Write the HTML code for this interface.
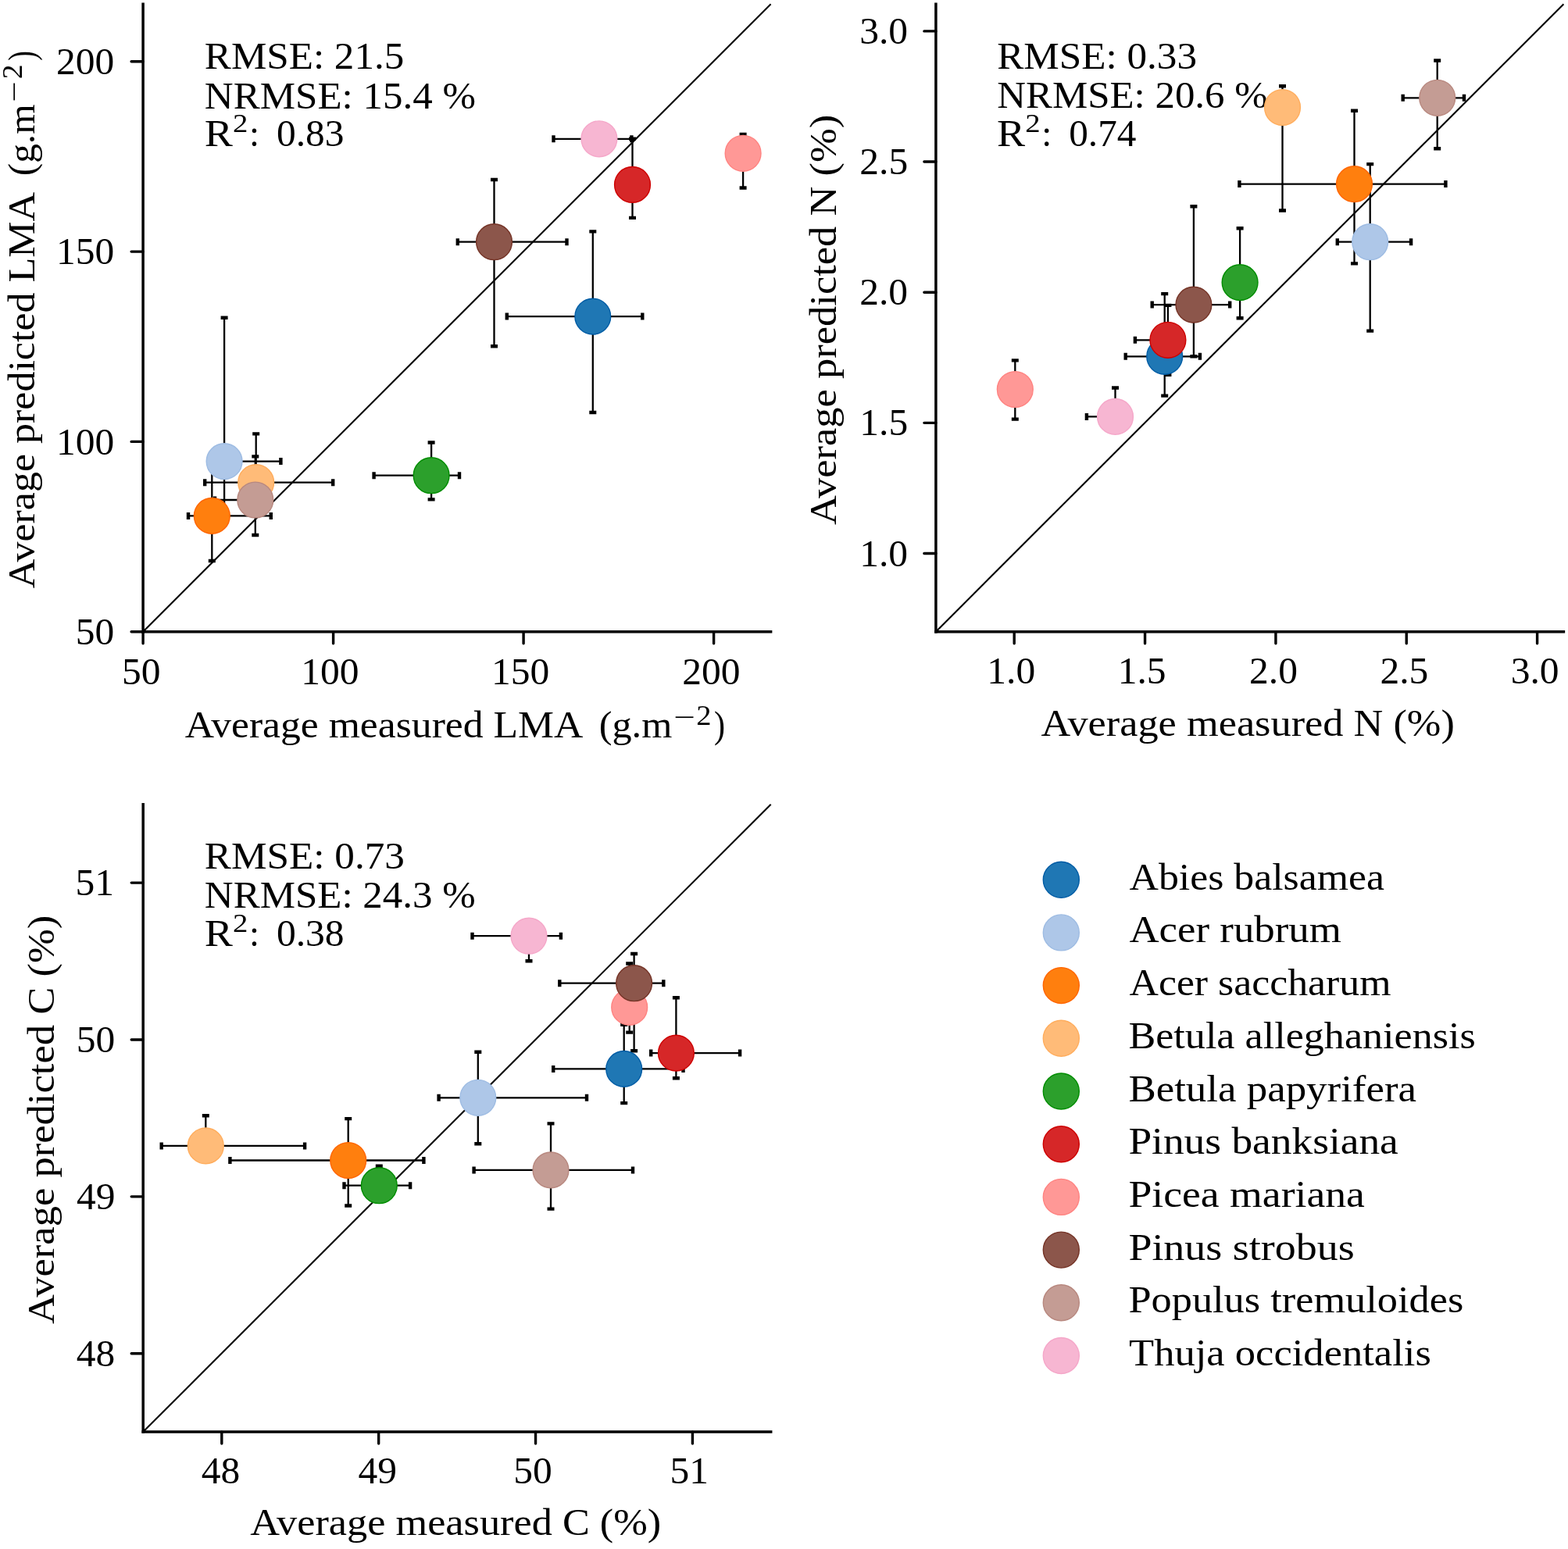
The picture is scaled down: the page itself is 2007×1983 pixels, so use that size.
<!DOCTYPE html><html><head><meta charset="utf-8"><style>html,body{margin:0;padding:0;background:#fff;overflow:hidden}svg{display:block}text{font-family:"Liberation Serif",serif;fill:#000}</style></head><body>
<svg width="2007" height="1983" viewBox="0 0 2007 1983">
<rect width="2007" height="1983" fill="#fff"/>
<path d="M183.10,5.20V808.70" stroke="#000" stroke-width="3.5" stroke-linecap="square" fill="none"/>
<path d="M183.10,808.70H986.60" stroke="#000" stroke-width="3.5" stroke-linecap="square" fill="none"/>
<path d="M183.10,808.70v15.0M426.60,808.70v15.0M670.10,808.70v15.0M913.60,808.70v15.0M183.10,808.70h-15.0M183.10,565.40h-15.0M183.10,322.10h-15.0M183.10,78.80h-15.0" stroke="#000" stroke-width="3.4" stroke-linecap="round" fill="none"/>
<path d="M183.10,808.70L986.60,5.20" stroke="#000" stroke-width="2.1" fill="none"/>
<text x="155.95" y="875.71" font-size="49.5">50</text>
<text x="385.14" y="875.71" font-size="49.5">100</text>
<text x="628.89" y="875.71" font-size="49.5">150</text>
<text x="873.34" y="875.71" font-size="49.5">200</text>
<text x="96.86" y="824.91" font-size="49.5">50</text>
<text x="72.11" y="581.61" font-size="49.5">100</text>
<text x="72.11" y="338.31" font-size="49.5">150</text>
<text x="72.11" y="95.01" font-size="49.5">200</text>
<text transform="translate(236.68,944.30) scale(1.0439,1)" font-size="49.5">Average measured LMA</text>
<text transform="translate(766.74,944.30) scale(1.0157,1)" font-size="49.5">(g.m</text>
<text transform="translate(862.15,929.94) scale(1.4009,1)" font-size="35.00">−</text>
<text transform="translate(891.37,927.50) scale(1.0628,1)" font-size="36.23">2</text>
<text transform="translate(913.92,944.30) scale(0.8552,1)" font-size="49.5">)</text>
<text transform="translate(44.00,753.32) rotate(-90) scale(1.0512,1)" font-size="49.5">Average predicted LMA</text>
<text transform="translate(44.00,225.22) rotate(-90) scale(0.9966,1)" font-size="49.5">(g.m</text>
<text transform="translate(30.14,130.75) rotate(-90) scale(1.3456,1)" font-size="35.00">−</text>
<text transform="translate(27.70,101.29) rotate(-90) scale(1.0755,1)" font-size="34.87">2</text>
<text transform="translate(44.00,77.74) rotate(-90) scale(0.7689,1)" font-size="49.5">)</text>
<text transform="translate(261.87,88.00) scale(1.0318,1)" font-size="49.5">RMSE: 21.5</text>
<text transform="translate(261.87,138.60) scale(1.0301,1)" font-size="49.5">NRMSE: 15.4 %</text>
<text transform="translate(261.77,187.00) scale(1.0944,1)" font-size="49.5">R</text>
<text transform="translate(297.96,169.10) scale(1.1359,1)" font-size="34.11">2</text>
<text transform="translate(319.06,187.00) scale(0.9456,1)" font-size="49.5">:</text>
<text transform="translate(353.95,187.00) scale(0.9977,1)" font-size="49.5">0.83</text>
<path d="M1197.90,5.20V808.70" stroke="#000" stroke-width="3.5" stroke-linecap="square" fill="none"/>
<path d="M1197.90,808.70H2001.40" stroke="#000" stroke-width="3.5" stroke-linecap="square" fill="none"/>
<path d="M1298.20,808.70v15.0M1465.55,808.70v15.0M1632.90,808.70v15.0M1800.25,808.70v15.0M1967.60,808.70v15.0M1197.90,708.50h-15.0M1197.90,541.35h-15.0M1197.90,374.20h-15.0M1197.90,207.05h-15.0M1197.90,39.90h-15.0" stroke="#000" stroke-width="3.4" stroke-linecap="round" fill="none"/>
<path d="M1197.90,808.70L2001.40,5.20" stroke="#000" stroke-width="2.1" fill="none"/>
<text x="1263.33" y="874.86" font-size="49.5">1.0</text>
<text x="1100.18" y="724.59" font-size="49.5">1.0</text>
<text x="1430.74" y="874.86" font-size="49.5">1.5</text>
<text x="1100.31" y="557.31" font-size="49.5">1.5</text>
<text x="1599.08" y="874.86" font-size="49.5">2.0</text>
<text x="1100.18" y="390.29" font-size="49.5">2.0</text>
<text x="1766.49" y="874.86" font-size="49.5">2.5</text>
<text x="1100.31" y="223.08" font-size="49.5">2.5</text>
<text x="1933.71" y="874.86" font-size="49.5">3.0</text>
<text x="1100.18" y="55.99" font-size="49.5">3.0</text>
<text transform="translate(1332.48,941.70) scale(1.0574,1)" font-size="49.5">Average measured N (%)</text>
<text transform="translate(1070.00,672.03) rotate(-90) scale(1.0611,1)" font-size="49.5">Average predicted N (%)</text>
<text transform="translate(1276.17,87.60) scale(1.0335,1)" font-size="49.5">RMSE: 0.33</text>
<text transform="translate(1276.17,137.80) scale(1.0286,1)" font-size="49.5">NRMSE: 20.6 %</text>
<text transform="translate(1276.07,186.50) scale(1.0944,1)" font-size="49.5">R</text>
<text transform="translate(1312.26,168.60) scale(1.1359,1)" font-size="34.11">2</text>
<text transform="translate(1333.36,186.50) scale(0.9456,1)" font-size="49.5">:</text>
<text transform="translate(1368.25,186.50) scale(0.9949,1)" font-size="49.5">0.74</text>
<path d="M183.20,1029.70V1833.10" stroke="#000" stroke-width="3.5" stroke-linecap="square" fill="none"/>
<path d="M183.20,1833.10H986.70" stroke="#000" stroke-width="3.5" stroke-linecap="square" fill="none"/>
<path d="M283.80,1833.10v15.0M484.67,1833.10v15.0M685.54,1833.10v15.0M886.41,1833.10v15.0M183.20,1732.70h-15.0M183.20,1531.83h-15.0M183.20,1330.96h-15.0M183.20,1130.09h-15.0" stroke="#000" stroke-width="3.4" stroke-linecap="round" fill="none"/>
<path d="M183.20,1833.10L986.70,1029.70" stroke="#000" stroke-width="2.1" fill="none"/>
<text x="257.73" y="1899.31" font-size="49.5">48</text>
<text x="458.50" y="1899.31" font-size="49.5">49</text>
<text x="657.16" y="1899.31" font-size="49.5">50</text>
<text x="857.56" y="1899.31" font-size="49.5">51</text>
<text x="97.86" y="1748.91" font-size="49.5">48</text>
<text x="97.98" y="1547.98" font-size="49.5">49</text>
<text x="97.86" y="1347.17" font-size="49.5">50</text>
<text x="96.47" y="1146.18" font-size="49.5">51</text>
<text transform="translate(320.18,1965.00) scale(1.0568,1)" font-size="49.5">Average measured C (%)</text>
<text transform="translate(68.50,1694.93) rotate(-90) scale(1.0625,1)" font-size="49.5">Average predicted C (%)</text>
<text transform="translate(261.86,1112.10) scale(1.0347,1)" font-size="49.5">RMSE: 0.73</text>
<text transform="translate(261.87,1161.90) scale(1.0295,1)" font-size="49.5">NRMSE: 24.3 %</text>
<text transform="translate(261.77,1211.00) scale(1.0944,1)" font-size="49.5">R</text>
<text transform="translate(297.96,1193.10) scale(1.1359,1)" font-size="34.11">2</text>
<text transform="translate(319.06,1211.00) scale(0.9456,1)" font-size="49.5">:</text>
<text transform="translate(353.94,1211.00) scale(1.0011,1)" font-size="49.5">0.38</text>
<path d="M648.8,405.1H822.3M758.8,296.4V528.0M275.0,590.6H359.4M287.1,406.7V662.0M241.0,660.4H346.8M271.3,600.0V718.0M262.2,617.7H426.2M327.7,555.4V640.0M478.6,608.7H588.0M552.1,566.5V639.4M809.5,177.8V278.9M951.1,172.0V240.5M585.8,309.7H725.5M632.5,230.0V443.2M275.0,640.0H345.0M326.8,584.4V685.0M708.5,177.8H808.4" stroke="#000" stroke-width="2.3" fill="none"/>
<path d="M648.8,400.6v9.0M822.3,400.6v9.0M754.3,296.4h9.0M754.3,528.0h9.0M275.0,586.1v9.0M359.4,586.1v9.0M282.6,406.7h9.0M282.6,662.0h9.0M241.0,655.9v9.0M346.8,655.9v9.0M266.8,600.0h9.0M266.8,718.0h9.0M262.2,613.2v9.0M426.2,613.2v9.0M323.2,555.4h9.0M323.2,640.0h9.0M478.6,604.2v9.0M588.0,604.2v9.0M547.6,566.5h9.0M547.6,639.4h9.0M805.0,177.8h9.0M805.0,278.9h9.0M946.6,172.0h9.0M946.6,240.5h9.0M585.8,305.2v9.0M725.5,305.2v9.0M628.0,230.0h9.0M628.0,443.2h9.0M275.0,635.5v9.0M345.0,635.5v9.0M322.3,584.4h9.0M322.3,685.0h9.0M708.5,173.3v9.0M808.4,173.3v9.0" stroke="#000" stroke-width="4.4" fill="none"/>
<path d="M1440.7,456.3H1535.9M1490.7,376.1V506.6M1711.8,309.7H1806.1M1753.7,210.1V423.6M1586.4,235.6H1850.4M1733.5,141.7V337.4M1641.5,110.2V269.5M1587.1,292.3V407.3M1452.9,435.3H1510.0M1494.9,390.9V479.8M1299.3,461.4V536.6M1474.7,390.1H1574.2M1527.9,264.3V456.3M1795.7,125.3H1874.0M1839.7,77.5V190.3M1390.9,533.4H1440.0M1427.5,496.5V550.0" stroke="#000" stroke-width="2.3" fill="none"/>
<path d="M1440.7,451.8v9.0M1535.9,451.8v9.0M1486.2,376.1h9.0M1486.2,506.6h9.0M1711.8,305.2v9.0M1806.1,305.2v9.0M1749.2,210.1h9.0M1749.2,423.6h9.0M1586.4,231.1v9.0M1850.4,231.1v9.0M1729.0,141.7h9.0M1729.0,337.4h9.0M1637.0,110.2h9.0M1637.0,269.5h9.0M1582.6,292.3h9.0M1582.6,407.3h9.0M1452.9,430.8v9.0M1510.0,430.8v9.0M1490.4,390.9h9.0M1490.4,479.8h9.0M1294.8,461.4h9.0M1294.8,536.6h9.0M1474.7,385.6v9.0M1574.2,385.6v9.0M1523.4,264.3h9.0M1523.4,456.3h9.0M1795.7,120.8v9.0M1874.0,120.8v9.0M1835.2,77.5h9.0M1835.2,190.3h9.0M1390.9,528.9v9.0M1440.0,528.9v9.0M1423.0,496.5h9.0M1423.0,550.0h9.0" stroke="#000" stroke-width="4.4" fill="none"/>
<path d="M708.2,1368.4H874.5M798.7,1311.8V1412.1M561.6,1405.3H751.0M611.8,1346.8V1464.3M294.4,1485.5H542.4M445.7,1432.1V1543.5M206.7,1466.9H390.1M263.3,1428.2V1480.0M440.5,1517.7H525.1M485.3,1492.8V1530.0M833.2,1348.1H947.1M865.4,1277.3V1380.3M790.0,1289.4H820.0M805.7,1233.5V1321.6M716.3,1258.7H849.3M811.6,1221.0V1345.3M606.6,1497.9H810.0M705.0,1438.4V1547.6M604.5,1198.2H717.9M677.0,1180.0V1230.3" stroke="#000" stroke-width="2.3" fill="none"/>
<path d="M708.2,1363.9v9.0M874.5,1363.9v9.0M794.2,1311.8h9.0M794.2,1412.1h9.0M561.6,1400.8v9.0M751.0,1400.8v9.0M607.3,1346.8h9.0M607.3,1464.3h9.0M294.4,1481.0v9.0M542.4,1481.0v9.0M441.2,1432.1h9.0M441.2,1543.5h9.0M206.7,1462.4v9.0M390.1,1462.4v9.0M258.8,1428.2h9.0M258.8,1480.0h9.0M440.5,1513.2v9.0M525.1,1513.2v9.0M480.8,1492.8h9.0M480.8,1530.0h9.0M833.2,1343.6v9.0M947.1,1343.6v9.0M860.9,1277.3h9.0M860.9,1380.3h9.0M790.0,1284.9v9.0M820.0,1284.9v9.0M801.2,1233.5h9.0M801.2,1321.6h9.0M716.3,1254.2v9.0M849.3,1254.2v9.0M807.1,1221.0h9.0M807.1,1345.3h9.0M606.6,1493.4v9.0M810.0,1493.4v9.0M700.5,1438.4h9.0M700.5,1547.6h9.0M604.5,1193.7v9.0M717.9,1193.7v9.0M672.5,1180.0h9.0M672.5,1230.3h9.0" stroke="#000" stroke-width="4.4" fill="none"/>
<circle cx="758.8" cy="405.1" r="22.90" fill="#1f77b4" stroke="#005ca5" stroke-width="1.4"/>
<circle cx="287.1" cy="590.6" r="22.90" fill="#aec7e8" stroke="#9ebce3" stroke-width="1.4"/>
<circle cx="271.3" cy="660.4" r="22.90" fill="#ff7f0e" stroke="#ff6500" stroke-width="1.4"/>
<circle cx="327.7" cy="617.7" r="22.90" fill="#ffbb78" stroke="#ffad5d" stroke-width="1.4"/>
<circle cx="552.1" cy="608.7" r="22.90" fill="#2ca02c" stroke="#028d02" stroke-width="1.4"/>
<circle cx="809.5" cy="236.4" r="22.90" fill="#d62728" stroke="#ce0000" stroke-width="1.4"/>
<circle cx="951.1" cy="196.3" r="22.90" fill="#ff9896" stroke="#ff8381" stroke-width="1.4"/>
<circle cx="632.5" cy="309.7" r="22.90" fill="#8c564b" stroke="#753427" stroke-width="1.4"/>
<circle cx="326.8" cy="640.0" r="22.90" fill="#c49c94" stroke="#b8887f" stroke-width="1.4"/>
<circle cx="766.9" cy="177.8" r="22.90" fill="#f7b6d2" stroke="#f5a7c9" stroke-width="1.4"/>
<circle cx="1490.7" cy="456.3" r="22.90" fill="#1f77b4" stroke="#005ca5" stroke-width="1.4"/>
<circle cx="1753.7" cy="309.7" r="22.90" fill="#aec7e8" stroke="#9ebce3" stroke-width="1.4"/>
<circle cx="1733.5" cy="235.6" r="22.90" fill="#ff7f0e" stroke="#ff6500" stroke-width="1.4"/>
<circle cx="1641.5" cy="137.5" r="22.90" fill="#ffbb78" stroke="#ffad5d" stroke-width="1.4"/>
<circle cx="1587.1" cy="361.6" r="22.90" fill="#2ca02c" stroke="#028d02" stroke-width="1.4"/>
<circle cx="1494.9" cy="435.3" r="22.90" fill="#d62728" stroke="#ce0000" stroke-width="1.4"/>
<circle cx="1299.3" cy="498.5" r="22.90" fill="#ff9896" stroke="#ff8381" stroke-width="1.4"/>
<circle cx="1527.9" cy="390.1" r="22.90" fill="#8c564b" stroke="#753427" stroke-width="1.4"/>
<circle cx="1839.7" cy="125.3" r="22.90" fill="#c49c94" stroke="#b8887f" stroke-width="1.4"/>
<circle cx="1427.5" cy="533.4" r="22.90" fill="#f7b6d2" stroke="#f5a7c9" stroke-width="1.4"/>
<circle cx="798.7" cy="1368.4" r="22.90" fill="#1f77b4" stroke="#005ca5" stroke-width="1.4"/>
<circle cx="611.8" cy="1405.3" r="22.90" fill="#aec7e8" stroke="#9ebce3" stroke-width="1.4"/>
<circle cx="445.7" cy="1485.5" r="22.90" fill="#ff7f0e" stroke="#ff6500" stroke-width="1.4"/>
<circle cx="263.3" cy="1466.9" r="22.90" fill="#ffbb78" stroke="#ffad5d" stroke-width="1.4"/>
<circle cx="485.3" cy="1517.7" r="22.90" fill="#2ca02c" stroke="#028d02" stroke-width="1.4"/>
<circle cx="865.4" cy="1348.1" r="22.90" fill="#d62728" stroke="#ce0000" stroke-width="1.4"/>
<circle cx="805.7" cy="1289.4" r="22.90" fill="#ff9896" stroke="#ff8381" stroke-width="1.4"/>
<circle cx="811.6" cy="1258.7" r="22.90" fill="#8c564b" stroke="#753427" stroke-width="1.4"/>
<circle cx="705.0" cy="1497.9" r="22.90" fill="#c49c94" stroke="#b8887f" stroke-width="1.4"/>
<circle cx="677.0" cy="1198.2" r="22.90" fill="#f7b6d2" stroke="#f5a7c9" stroke-width="1.4"/>
<circle cx="1358.3" cy="1126.2" r="23.00" fill="#1f77b4" stroke="#005ca5" stroke-width="1.4"/>
<text transform="translate(1445.48,1138.70) scale(1.0468,1)" font-size="49.5">Abies balsamea</text>
<circle cx="1358.3" cy="1193.9" r="23.00" fill="#aec7e8" stroke="#9ebce3" stroke-width="1.4"/>
<text transform="translate(1445.47,1206.40) scale(1.0673,1)" font-size="49.5">Acer rubrum</text>
<circle cx="1358.3" cy="1261.6" r="23.00" fill="#ff7f0e" stroke="#ff6500" stroke-width="1.4"/>
<text transform="translate(1445.48,1274.10) scale(1.0467,1)" font-size="49.5">Acer saccharum</text>
<circle cx="1358.3" cy="1329.3" r="23.00" fill="#ffbb78" stroke="#ffad5d" stroke-width="1.4"/>
<text transform="translate(1444.44,1341.80) scale(1.0531,1)" font-size="49.5">Betula alleghaniensis</text>
<circle cx="1358.3" cy="1397.0" r="23.00" fill="#2ca02c" stroke="#028d02" stroke-width="1.4"/>
<text transform="translate(1444.41,1409.50) scale(1.0689,1)" font-size="49.5">Betula papyrifera</text>
<circle cx="1358.3" cy="1464.7" r="23.00" fill="#d62728" stroke="#ce0000" stroke-width="1.4"/>
<text transform="translate(1444.40,1477.20) scale(1.0784,1)" font-size="49.5">Pinus banksiana</text>
<circle cx="1358.3" cy="1532.4" r="23.00" fill="#ff9896" stroke="#ff8381" stroke-width="1.4"/>
<text transform="translate(1444.39,1544.90) scale(1.0848,1)" font-size="49.5">Picea mariana</text>
<circle cx="1358.3" cy="1600.1" r="23.00" fill="#8c564b" stroke="#753427" stroke-width="1.4"/>
<text transform="translate(1444.38,1612.60) scale(1.0900,1)" font-size="49.5">Pinus strobus</text>
<circle cx="1358.3" cy="1667.8" r="23.00" fill="#c49c94" stroke="#b8887f" stroke-width="1.4"/>
<text transform="translate(1444.43,1680.30) scale(1.0574,1)" font-size="49.5">Populus tremuloides</text>
<circle cx="1358.3" cy="1735.5" r="23.00" fill="#f7b6d2" stroke="#f5a7c9" stroke-width="1.4"/>
<text transform="translate(1445.08,1748.00) scale(1.0622,1)" font-size="49.5">Thuja occidentalis</text>
</svg></body></html>
